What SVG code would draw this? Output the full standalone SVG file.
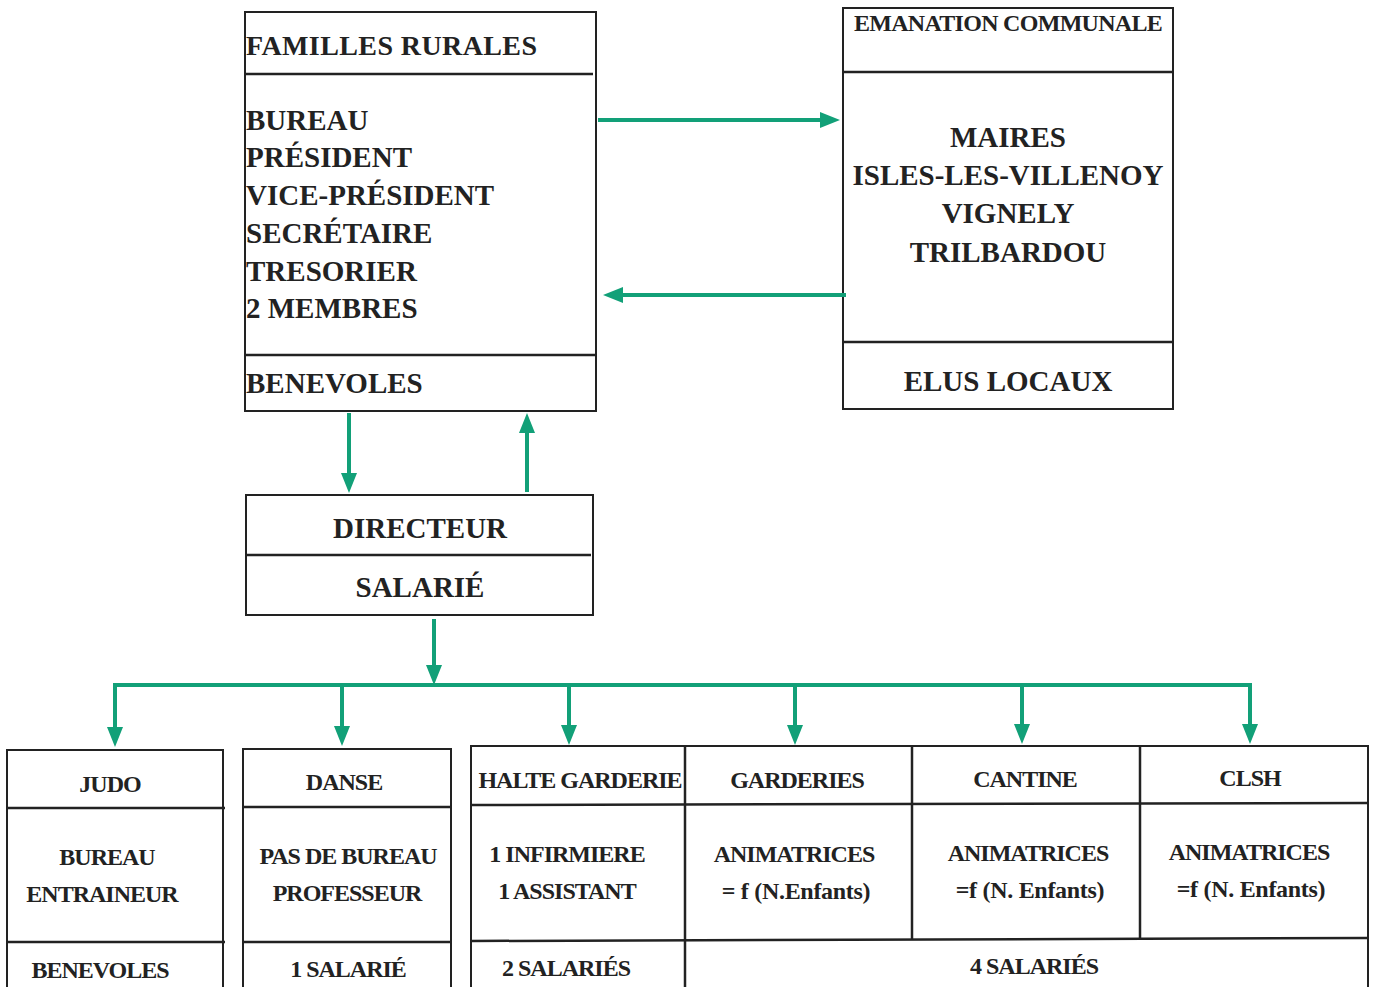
<svg xmlns="http://www.w3.org/2000/svg" width="1373" height="987" viewBox="0 0 1373 987" font-family="'Liberation Serif', 'DejaVu Serif', serif">
<defs>
<marker id="ah" markerUnits="userSpaceOnUse" markerWidth="22" markerHeight="18" refX="8" refY="8" orient="auto">
<path d="M0,0 L20,8 L0,16 z" fill="#12a078"/>
</marker>
<style>
.box{fill:#fff;stroke:#222;stroke-width:2}
.ln{stroke:#222;stroke-width:2.5;fill:none}
.t{font-weight:bold;fill:#222}
.big{font-size:29px}
.hd{font-size:28px;letter-spacing:0.4px}
.sm{font-size:24px;letter-spacing:-1px}
.c{text-anchor:middle}
.con{stroke:#12a078;stroke-width:4;fill:none}
.ar{marker-end:url(#ah)}
</style>
</defs>
<rect width="1373" height="987" fill="#fff"/>

<g id="familles-rurales">
<rect class="box" x="245" y="12" width="351" height="399"/>
<line class="ln" x1="245" y1="74" x2="593" y2="74"/>
<line class="ln" x1="246" y1="355" x2="595" y2="355"/>
<text class="t hd" x="246" y="55">FAMILLES RURALES</text>
<text class="t big" x="246" y="130">BUREAU</text>
<text class="t big" x="246" y="167">PRÉSIDENT</text>
<text class="t big" x="246" y="205">VICE-PRÉSIDENT</text>
<text class="t big" x="246" y="243">SECRÉTAIRE</text>
<text class="t big" x="246" y="281">TRESORIER</text>
<text class="t big" x="246" y="318">2 MEMBRES</text>
<text class="t big" x="246" y="393">BENEVOLES</text>
</g>

<g id="emanation-communale">
<rect class="box" x="843" y="8" width="330" height="401"/>
<line class="ln" x1="843" y1="72" x2="1173" y2="72"/>
<line class="ln" x1="844" y1="342" x2="1173" y2="342"/>
<text class="t c" x="1008" y="31" style="font-size:24px;letter-spacing:-0.7px">EMANATION COMMUNALE</text>
<text class="t big c" x="1008" y="147">MAIRES</text>
<text class="t big c" x="1008" y="185">ISLES-LES-VILLENOY</text>
<text class="t big c" x="1008" y="223">VIGNELY</text>
<text class="t big c" x="1008" y="262">TRILBARDOU</text>
<text class="t big c" x="1008" y="391">ELUS LOCAUX</text>
</g>

<g id="directeur">
<rect class="box" x="246" y="495" width="347" height="120"/>
<line class="ln" x1="246" y1="555" x2="591" y2="555"/>
<text class="t big c" x="420" y="538">DIRECTEUR</text>
<text class="t big c" x="420" y="597">SALARIÉ</text>
</g>

<g id="judo">
<rect class="box" x="7" y="750" width="216" height="245"/>
<line class="ln" x1="7" y1="808" x2="225" y2="808"/>
<line class="ln" x1="7" y1="942" x2="225" y2="942"/>
<text class="t sm c" x="110" y="792">JUDO</text>
<text class="t sm c" x="107" y="865">BUREAU</text>
<text class="t sm c" x="102" y="902">ENTRAINEUR</text>
<text class="t sm c" x="100" y="978">BENEVOLES</text>
</g>

<g id="danse">
<rect class="box" x="243" y="749" width="208" height="246"/>
<line class="ln" x1="243" y1="807" x2="452" y2="807"/>
<line class="ln" x1="243" y1="942" x2="452" y2="942"/>
<text class="t sm c" x="344" y="790">DANSE</text>
<text class="t sm c" x="348" y="864">PAS DE BUREAU</text>
<text class="t sm c" x="347" y="901">PROFESSEUR</text>
<text class="t sm c" x="348" y="977">1 SALARIÉ</text>
</g>

<g id="services">
<rect class="box" x="471" y="746" width="897" height="249"/>
<line class="ln" x1="685" y1="746" x2="685" y2="995"/>
<line class="ln" x1="912" y1="746" x2="912" y2="940"/>
<line class="ln" x1="1140" y1="745" x2="1140" y2="939"/>
<line class="ln" x1="471" y1="805" x2="1368" y2="803"/>
<line class="ln" x1="471" y1="941" x2="1368" y2="938"/>
</g>

<g id="halte-garderie">
<text class="t sm c" x="580" y="788">HALTE GARDERIE</text>
<text class="t sm c" x="567" y="862">1 INFIRMIERE</text>
<text class="t sm c" x="567" y="899">1 ASSISTANT</text>
<text class="t sm c" x="566" y="976">2 SALARIÉS</text>
</g>

<g id="garderies">
<text class="t sm c" x="797" y="788">GARDERIES</text>
<text class="t sm c" x="794" y="862">ANIMATRICES</text>
<text class="t sm c" x="796" y="899" style="letter-spacing:-0.3px">= f (N.Enfants)</text>
</g>

<g id="cantine">
<text class="t sm c" x="1025" y="787">CANTINE</text>
<text class="t sm c" x="1028" y="861">ANIMATRICES</text>
<text class="t sm c" x="1030" y="898" style="letter-spacing:-0.3px">=f (N. Enfants)</text>
</g>

<g id="clsh">
<text class="t sm c" x="1250" y="786">CLSH</text>
<text class="t sm c" x="1249" y="860">ANIMATRICES</text>
<text class="t sm c" x="1251" y="897" style="letter-spacing:-0.3px">=f (N. Enfants)</text>
</g>

<g id="salaries-4">
<text class="t sm c" x="1034" y="974">4 SALARIÉS</text>
</g>

<g id="connectors">
<line class="con ar" x1="598" y1="120" x2="828" y2="120"/>
<line class="con ar" x1="846" y1="295" x2="615" y2="295"/>
<line class="con ar" x1="349" y1="413" x2="349" y2="481"/>
<line class="con ar" x1="527" y1="492" x2="527" y2="425"/>
<line class="con ar" x1="434" y1="619" x2="434" y2="673"/>
<line class="con" x1="113" y1="685" x2="1252" y2="685"/>
<line class="con ar" x1="115" y1="685" x2="115" y2="735"/>
<line class="con ar" x1="342" y1="685" x2="342" y2="734"/>
<line class="con ar" x1="569" y1="685" x2="569" y2="733"/>
<line class="con ar" x1="795" y1="685" x2="795" y2="733"/>
<line class="con ar" x1="1022" y1="685" x2="1022" y2="732"/>
<line class="con ar" x1="1250" y1="685" x2="1250" y2="732"/>
</g>
</svg>
